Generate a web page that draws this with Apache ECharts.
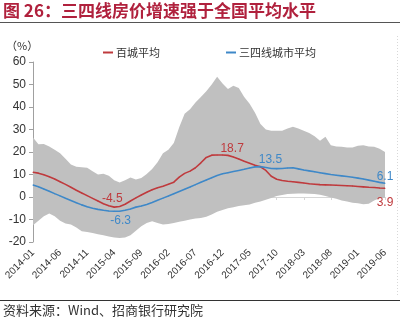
<!DOCTYPE html>
<html><head><meta charset="utf-8">
<script src="https://cdn.jsdelivr.net/npm/echarts@6/dist/echarts.min.js"></script>
<style>html,body{margin:0;padding:0;background:#fff}#c{width:400px;height:326px}</style>
</head><body><div id="c"></div>
<script>
const categories = ['2014-01','2014-02','2014-03','2014-04','2014-05','2014-06','2014-07','2014-08','2014-09','2014-10','2014-11','2014-12',
'2015-01','2015-02','2015-03','2015-04','2015-05','2015-06','2015-07','2015-08','2015-09','2015-10','2015-11','2015-12',
'2016-01','2016-02','2016-03','2016-04','2016-05','2016-06','2016-07','2016-08','2016-09','2016-10','2016-11','2016-12',
'2017-01','2017-02','2017-03','2017-04','2017-05','2017-06','2017-07','2017-08','2017-09','2017-10','2017-11','2017-12',
'2018-01','2018-02','2018-03','2018-04','2018-05','2018-06','2018-07','2018-08','2018-09','2018-10','2018-11','2018-12',
'2019-01','2019-02','2019-03','2019-04','2019-05','2019-06'];
const yTicks = [-20,-10,0,10,20,30,40,50,60];
const redName = '百城平均';
const blueName = '三四线城市平均';
const redValues = [11.0,10.6,9.9,9.0,8.0,6.8,5.6,4.3,3.0,1.8,
0.6,-0.6,-1.8,-3.0,-3.9,-4.5,-4.2,-3.2,-1.8,-0.4,
0.9,2.1,3.2,4.1,4.8,5.7,6.6,8.8,10.5,11.5,
13.0,15.2,17.6,18.6,18.7,18.7,18.5,17.8,16.9,15.9,
15.0,14.1,13.4,11.8,9.2,7.9,7.3,7.0,6.8,6.5,
6.2,5.9,5.7,5.5,5.4,5.3,5.2,5.1,5.0,4.9,
4.7,4.5,4.3,4.2,4.0,3.9];
const blueValues = [5.3,4.6,3.6,2.6,1.5,0.5,-0.6,-1.6,-2.6,-3.5,
-4.3,-5.0,-5.5,-5.9,-6.2,-6.3,-6.3,-5.9,-5.3,-4.5,
-4.0,-3.3,-2.4,-1.4,-0.5,0.4,1.4,2.4,3.4,4.4,
5.5,6.6,7.6,8.6,9.6,10.3,10.8,11.3,11.8,12.3,
12.9,13.4,13.5,13.1,12.7,12.6,12.7,12.9,13.0,12.5,
12.0,11.6,11.2,10.8,10.4,10.0,9.7,9.4,9.1,8.8,
8.4,8.0,7.5,7.0,6.5,6.1];
const bandUpper = [26.5,23.5,23.6,22.5,21.0,19.5,17.0,14.5,13.4,13.2,
13.0,11.5,10.0,10.3,9.5,7.5,6.5,7.5,8.7,7.8,
8.5,10.2,12.5,15.5,19.5,21.0,24.0,31.0,37.0,39.0,
42.0,44.5,47.0,50.0,53.5,50.5,48.0,49.5,48.5,44.5,
41.5,37.5,32.5,30.0,29.5,29.5,29.5,30.5,31.2,30.5,
29.5,28.5,27.0,25.0,26.8,23.0,22.5,22.3,22.0,22.0,
22.8,23.0,22.5,22.3,21.5,20.0];
const bandLower = [-12.5,-10.5,-8.5,-7.3,-8.5,-10.5,-11.8,-12.2,-13.5,-15.2,
-15.5,-16.0,-16.5,-17.0,-17.5,-18.0,-18.2,-18.0,-17.0,-15.0,
-13.0,-11.5,-10.8,-11.5,-12.2,-12.0,-11.5,-11.0,-10.5,-10.0,
-9.6,-9.3,-8.8,-7.8,-6.6,-5.8,-5.0,-4.5,-4.0,-3.7,
-3.3,-2.6,-2.0,-1.2,-0.4,0.4,0.9,1.3,1.5,1.6,
1.6,1.5,1.3,1.0,0.4,-0.2,-0.8,-1.5,-2.0,-2.5,
-2.8,-3.2,-3.0,-1.5,-0.6,-0.3];
// labelled points: index -> label settings
const redLabels = {15:{position:'top',offset:[-2,1]},34:{position:'top',offset:[15,3]},65:{position:'bottom',offset:[0,5]}};
const blueLabels = {16:{position:'bottom',offset:[1,0]},42:{position:'top',offset:[10,3]},65:{position:'top',offset:[0,3]}};

const RED = '#BF3A3D', BLUE = '#3E88C8', GRAY = '#C0C0C0';
const FONT = '"Noto Sans CJK SC", "Liberation Sans", sans-serif';

function withLabels(vals, labels, color){
  return vals.map((v,i)=> labels[i]
    ? {value:v, label:Object.assign({show:true, color:color, fontSize:12, fontFamily:'"Liberation Sans", Arial, sans-serif', distance:3, formatter: p => p.value.toFixed(1)}, labels[i])}
    : {value:v, label:{show:false}});
}
const bandDiff = bandUpper.map((u,i)=> +(u - bandLower[i]).toFixed(2));

const chart = echarts.init(document.getElementById('c'), null, {renderer:'canvas'});
chart.setOption({
  animation:false,
  backgroundColor:'#fff',
  grid:{left:33, right:15, top:62, bottom:84},
  legend:{
    data:[redName, blueName], left:98, top:42, itemGap:66, icon:'rect', itemWidth:10, itemHeight:2,
    textStyle:{fontSize:11, color:'#333', fontFamily:FONT, padding:[0,0,0,-2]}
  },
  xAxis:[{
    type:'category', data:categories, boundaryGap:false, position:'bottom',
    axisLine:{show:false, onZero:false}, axisTick:{show:false},
    axisLabel:{interval:4, rotate:45, fontSize:10, color:'#333', margin:9, fontFamily:'"Liberation Sans", Arial, sans-serif'},
    splitLine:{show:false}
  },{
    type:'category', data:categories, boundaryGap:false, position:'bottom',
    axisLine:{show:true, onZero:true, lineStyle:{color:'#D6D6D6', width:1}},
    axisTick:{show:true, interval:4, length:3, lineStyle:{color:'#D6D6D6'}},
    axisLabel:{show:false}, splitLine:{show:false}
  }],
  yAxis:{
    type:'value', min:-20, max:60, interval:10,
    axisLine:{show:true, lineStyle:{color:'#A0A0A0'}},
    axisTick:{show:true, length:4, lineStyle:{color:'#A0A0A0'}},
    axisLabel:{fontSize:12, color:'#333', margin:7, fontFamily:'"Liberation Sans", Arial, sans-serif',
      formatter: v => yTicks.includes(v) ? String(v) : ''},
    splitLine:{show:false}
  },
  graphic:[
    {type:'text', left:3, top:2, style:{text:'图 26：三四线房价增速强于全国平均水平', font:'bold 17px "Noto Sans CJK SC"', fill:'#B0213D'}},
    {type:'line', shape:{x1:0, y1:22.5, x2:400, y2:22.5}, style:{stroke:'#555', lineWidth:1}},
    {type:'text', left:6, top:40, style:{text:'（%）', font:'11px "Noto Sans CJK SC"', fill:'#333'}},
    {type:'line', shape:{x1:397.5, y1:36, x2:397.5, y2:296}, style:{stroke:'#D8D8D8', lineWidth:1, lineDash:[1,2]}},
    {type:'line', shape:{x1:0, y1:300.5, x2:400, y2:300.5}, style:{stroke:'#333', lineWidth:1}},
    {type:'text', left:3, top:304, style:{text:'资料来源：Wind、招商银行研究院', font:'13px "Noto Sans CJK SC"', fill:'#333'}}
  ],
  series:[
    {name:'bandBase', type:'line', data:bandLower, stack:'band', stackStrategy:'all', symbol:'none',
     lineStyle:{opacity:0}, silent:true, z:1},
    {name:'bandRange', type:'line', data:bandDiff, stack:'band', stackStrategy:'all', symbol:'none',
     lineStyle:{opacity:0}, areaStyle:{color:GRAY, opacity:1}, silent:true, z:1},
    {name:redName, type:'line', data:withLabels(redValues, redLabels, RED), symbol:'circle', symbolSize:1,
     showSymbol:true, showAllSymbol:true,
     lineStyle:{color:RED, width:1.6}, itemStyle:{color:RED}, z:3},
    {name:blueName, type:'line', data:withLabels(blueValues, blueLabels, BLUE), symbol:'circle', symbolSize:1,
     showSymbol:true, showAllSymbol:true,
     lineStyle:{color:BLUE, width:1.6}, itemStyle:{color:BLUE}, z:3}
  ]
});
</script></body></html>
